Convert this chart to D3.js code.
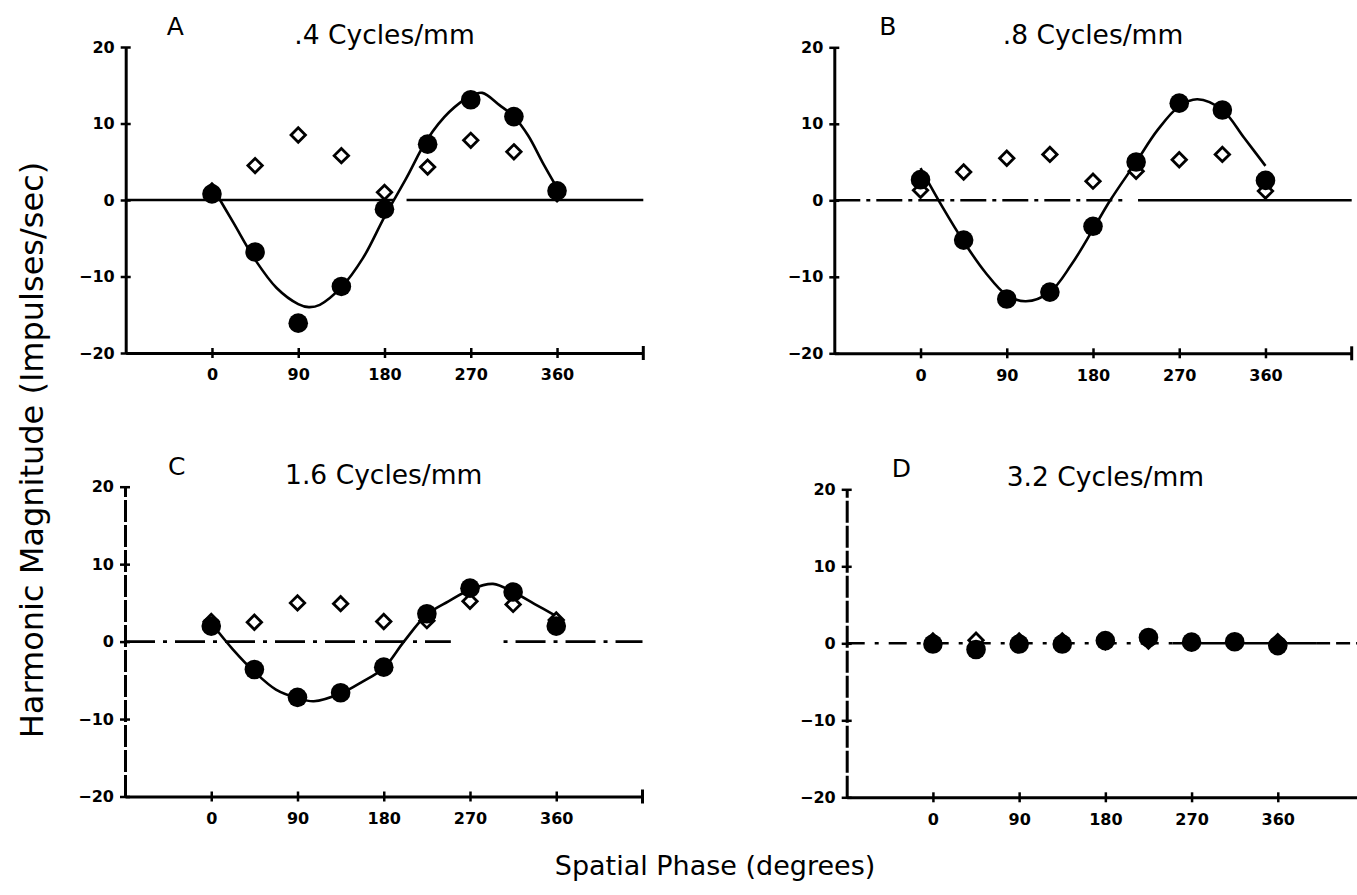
<!DOCTYPE html>
<html>
<head>
<meta charset="utf-8">
<script src="https://cdn.jsdelivr.net/npm/d3@7"></script>
<style>
  html, body { margin: 0; padding: 0; background: #fff; }
  svg { display: block; }
</style>
</head>
<body>
<svg id="chart" width="1357" height="895"></svg>
<script>
// Stimulus phases (degrees) at which responses were measured
const phases = [0, 45, 90, 135, 180, 225, 270, 315, 360];
const phaseTicks = [0, 90, 180, 270, 360];
const magnitudeTicks = [-20, -10, 0, 10, 20];

const panelLetters = ["A", "B", "C", "D"];
const panelTitles = [".4 Cycles/mm", ".8 Cycles/mm", "1.6 Cycles/mm", "3.2 Cycles/mm"];

// Fundamental harmonic (filled circles), impulses/sec
const firstHarmonicA = [0.8, -6.8, -16.1, -11.3, -1.2, 7.3, 13.1, 10.9, 1.2];
const firstHarmonicB = [2.7, -5.2, -12.9, -12.0, -3.4, 5.0, 12.7, 11.8, 2.6];
const firstHarmonicC = [2.0, -3.6, -7.2, -6.6, -3.3, 3.6, 6.9, 6.4, 2.0];
const firstHarmonicD = [-0.1, -0.8, -0.1, -0.1, 0.35, 0.75, 0.15, 0.2, -0.3];

// Second harmonic (open diamonds), impulses/sec
const secondHarmonicA = [1.2, 4.5, 8.5, 5.8, 1.0, 4.3, 7.8, 6.3, 0.8];
const secondHarmonicB = [1.3, 3.7, 5.5, 6.0, 2.5, 3.8, 5.3, 6.0, 1.2];
const secondHarmonicC = [2.6, 2.5, 5.0, 4.9, 2.6, 2.7, 5.2, 4.8, 2.8];
const secondHarmonicD = [0.3, 0.4, 0.3, 0.3, 0.2, 0.3, 0.1, 0.2, 0.2];

// Hand-fitted sinusoid through the fundamental responses
const fitPhaseA = [0, 22.5, 45, 67.5, 90, 101, 112.5, 135, 157.5, 180, 202.5, 225, 247.5, 270, 282, 300, 315, 330, 345, 360];
const fitA      = [1.8, -3.0, -7.8, -11.5, -13.6, -14.0, -13.7, -11.4, -7.6, -2.2, 2.8, 8.0, 11.5, 13.6, 14.0, 12.4, 10.9, 8.4, 4.9, 1.6];
const fitPhaseB = [0, 22.5, 45, 67.5, 90, 110, 135, 157.5, 180, 198, 225, 247.5, 270, 289, 315, 337.5, 360];
const fitB      = [4.2, -0.8, -5.4, -9.4, -12.4, -13.2, -12.0, -8.4, -3.8, 0, 5.0, 9.2, 12.3, 13.2, 11.8, 8.2, 4.5];
const fitPhaseC = [0, 22.5, 45, 67.5, 90, 107, 135, 157.5, 180, 201, 225, 247.5, 270, 294, 315, 337.5, 360];
const fitC      = [2.4, -1.0, -3.9, -6.2, -7.3, -7.7, -6.7, -5.2, -3.4, 0, 3.5, 5.2, 6.7, 7.45, 6.4, 4.85, 3.3];

const panelData = [
  { filled: firstHarmonicA, open: secondHarmonicA, fitX: fitPhaseA, fitY: fitA },
  { filled: firstHarmonicB, open: secondHarmonicB, fitX: fitPhaseB, fitY: fitB },
  { filled: firstHarmonicC, open: secondHarmonicC, fitX: fitPhaseC, fitY: fitC },
  { filled: firstHarmonicD, open: secondHarmonicD, fitX: null, fitY: null }
];

// Panel frames on the page and the line style of each zero reference line
const panelLayout = [
  { left: 125.7, right: 643.3, top: 47.0, bottom: 353.0, letterDx: 41, yDash: null,
    zero: [[-90, 190, null], [203, 450, null]] },
  { left: 834.3, right: 1351.7, top: 47.3, bottom: 353.3, letterDx: 45, yDash: null,
    zero: [[-90, 211, "26,6,4,6"], [227, 450, null]] },
  { left: 125.0, right: 642.5, top: 486.7, bottom: 796.5, letterDx: 43, yDash: "22,3",
    zero: [[-90, 250, "30,8,4,8"], [305, 450, "4,8,30,8"]] },
  { left: 846.7, right: 1364.0, top: 489.3, bottom: 797.3, letterDx: 45, yDash: "22,3",
    zero: [[-90, 250, "18,10,4,10"], [250, 400, null], [400, 450, "14,6"]] }
];

const svg = d3.select("#chart");
const FONT = "'DejaVu Sans', 'Liberation Sans', sans-serif";

const diamondPath = r => `M0,${-r}L${r},0L0,${r}L${-r},0Z`;

panelLayout.forEach((L, i) => {
  const D = panelData[i];
  const x = d3.scaleLinear().domain([-90, 450]).range([L.left, L.right]);
  const y = d3.scaleLinear().domain([-20, 20]).range([L.bottom, L.top]);
  const g = svg.append("g");

  // zero reference line
  L.zero.forEach(seg => {
    g.append("line")
      .attr("x1", x(seg[0])).attr("x2", x(seg[1]))
      .attr("y1", y(0)).attr("y2", y(0))
      .attr("stroke", "#000").attr("stroke-width", 2.6)
      .attr("stroke-dasharray", seg[2]);
  });

  // x axis
  const gx = g.append("g")
    .attr("transform", `translate(0,${L.bottom})`)
    .call(d3.axisBottom(x).tickValues(phaseTicks).tickSize(5).tickSizeOuter(0).tickPadding(11));
  gx.select(".domain").attr("stroke-width", 3);
  gx.selectAll(".tick line").attr("y1", -5).attr("stroke-width", 2.5);
  gx.attr("font-family", FONT).attr("font-size", 16).attr("font-weight", "bold");
  gx.append("line")
    .attr("x1", x(450)).attr("x2", x(450)).attr("y1", -7).attr("y2", 7)
    .attr("stroke", "#000").attr("stroke-width", 3);

  // y axis
  const gy = g.append("g")
    .attr("transform", `translate(${L.left},0)`)
    .call(d3.axisLeft(y).tickValues(magnitudeTicks).tickSize(5).tickSizeOuter(0).tickPadding(6));
  gy.select(".domain").attr("stroke-width", 3).attr("stroke-dasharray", L.yDash);
  gy.selectAll(".tick line").attr("x1", 5).attr("stroke-width", 2.5);
  gy.attr("font-family", FONT).attr("font-size", 16).attr("font-weight", "bold");

  // fitted curve
  if (D.fitX) {
    const pts = D.fitX.map((p, k) => [p, D.fitY[k]]);
    g.append("path")
      .datum(pts)
      .attr("fill", "none").attr("stroke", "#000").attr("stroke-width", 2.6)
      .attr("d", d3.line().x(d => x(d[0])).y(d => y(d[1])).curve(d3.curveCatmullRom.alpha(0.5)));
  }

  // second harmonic: open diamonds
  g.selectAll("path.open")
    .data(phases.map((p, k) => [p, D.open[k]]))
    .join("path")
    .attr("class", "open")
    .attr("transform", d => `translate(${x(d[0])},${y(d[1])})`)
    .attr("d", diamondPath(7.2))
    .attr("fill", "#fff").attr("stroke", "#000").attr("stroke-width", 2.8)
    .attr("stroke-linejoin", "miter");

  // fundamental: filled circles
  g.selectAll("circle.filled")
    .data(phases.map((p, k) => [p, D.filled[k]]))
    .join("circle")
    .attr("class", "filled")
    .attr("cx", d => x(d[0])).attr("cy", d => y(d[1]))
    .attr("r", 9.8).attr("fill", "#000");

  // panel letter and title
  g.append("text")
    .attr("x", L.left + L.letterDx).attr("y", L.top - 12)
    .attr("font-family", FONT).attr("font-size", 25)
    .text(panelLetters[i]);
  g.append("text")
    .attr("x", (L.left + Math.min(L.right, x(450))) / 2).attr("y", L.top - 3)
    .attr("text-anchor", "middle")
    .attr("font-family", FONT).attr("font-size", 26.5)
    .text(panelTitles[i]);
});

// shared axis titles
svg.append("text")
  .attr("x", 715).attr("y", 875)
  .attr("text-anchor", "middle")
  .attr("font-family", FONT).attr("font-size", 27)
  .text("Spatial Phase (degrees)");

svg.append("text")
  .attr("transform", "translate(43,450) rotate(-90)")
  .attr("text-anchor", "middle")
  .attr("font-family", FONT).attr("font-size", 32)
  .text("Harmonic Magnitude (Impulses/sec)");
</script>
</body>
</html>
